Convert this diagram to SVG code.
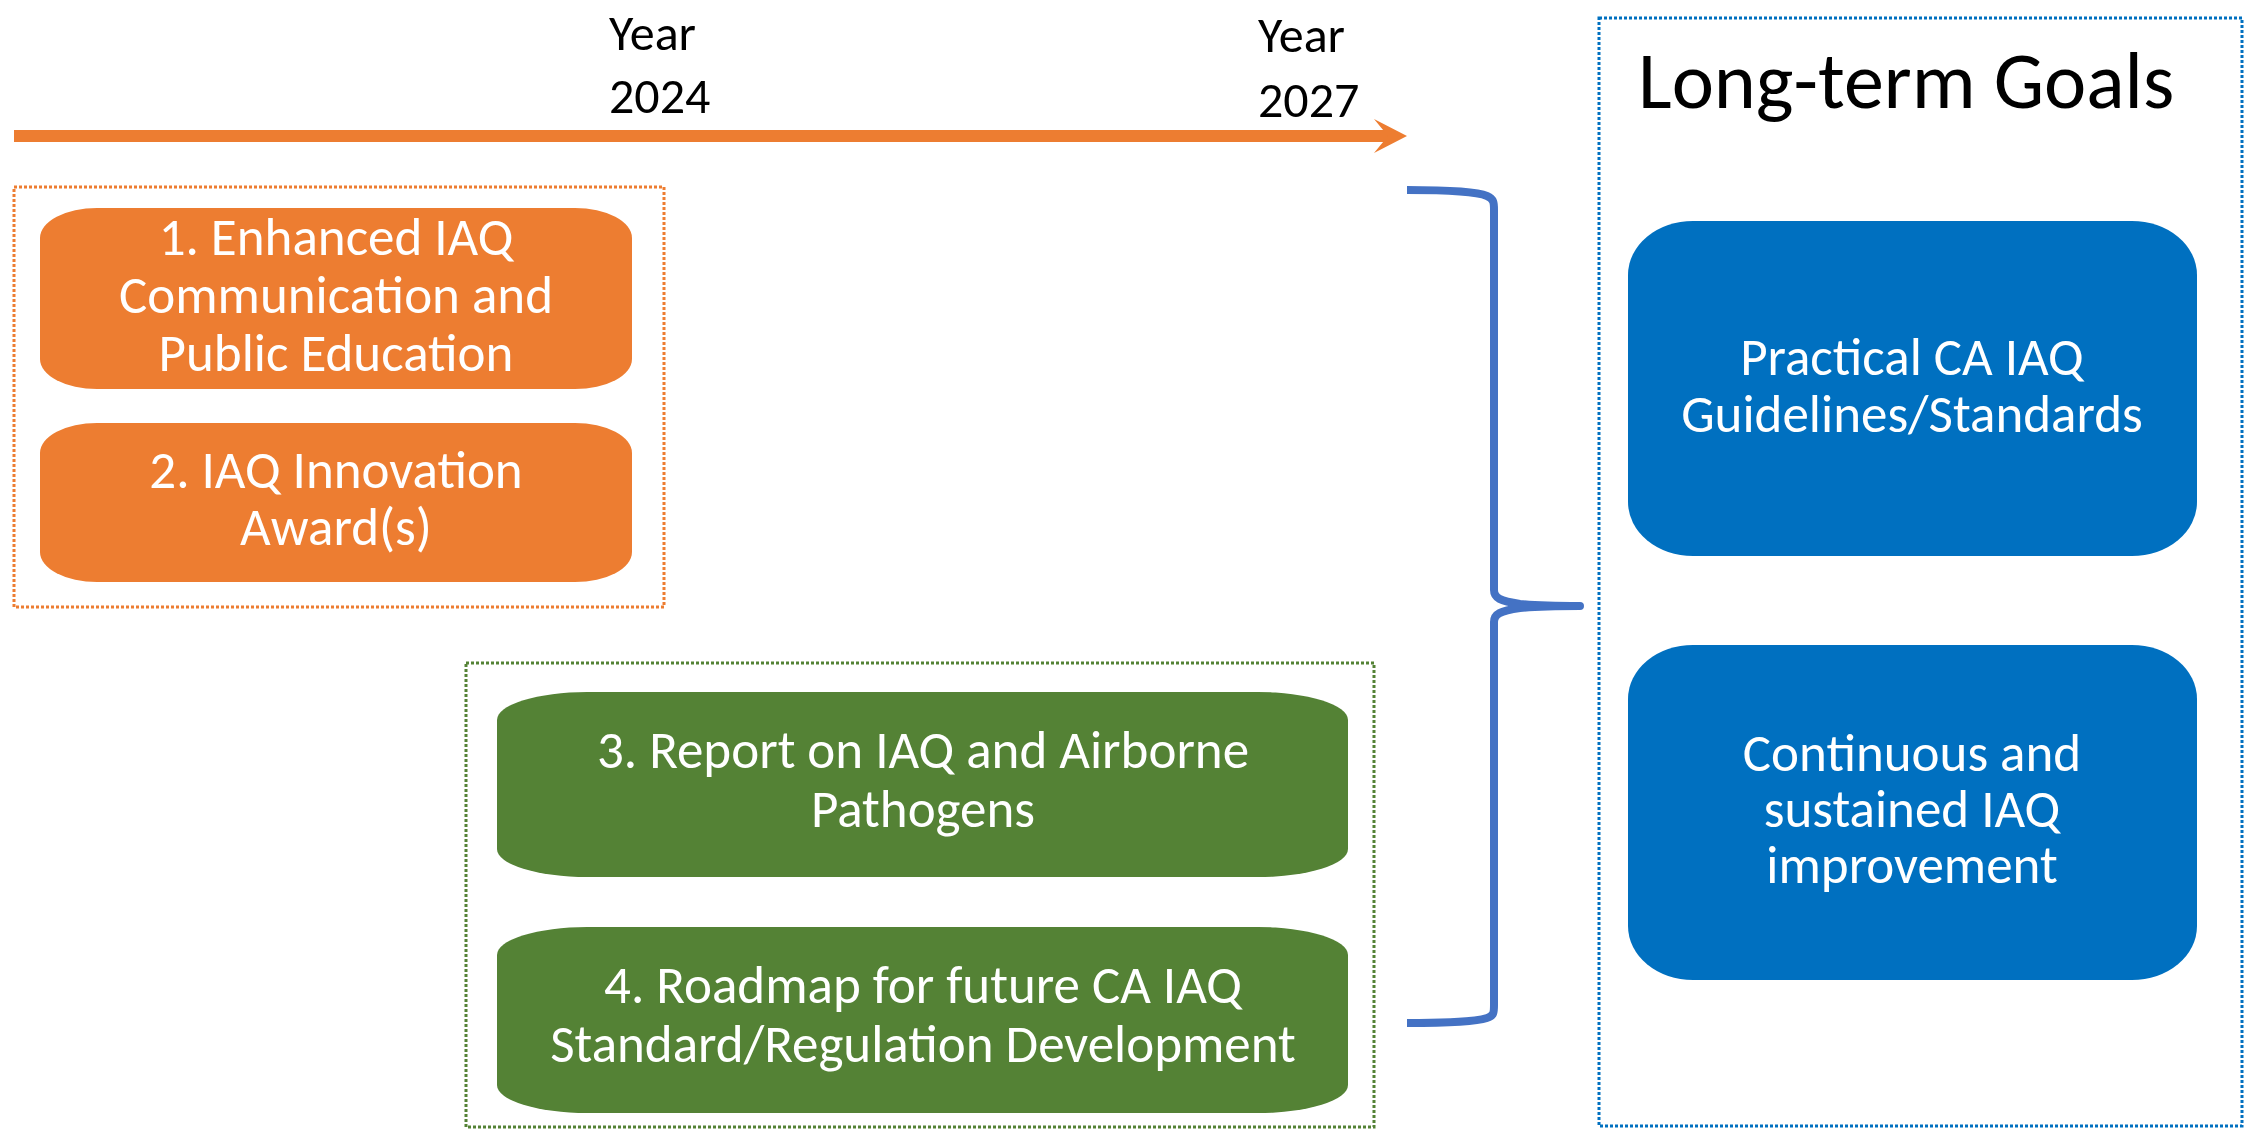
<svg xmlns="http://www.w3.org/2000/svg" width="2247" height="1129" viewBox="0 0 2247 1129">
<style>
.t{font-family:Carlito,Lato,"Liberation Sans",sans-serif;font-size:53px;fill:#fff;text-anchor:middle}
.y{font-family:Carlito,Lato,"Liberation Sans",sans-serif;font-size:50px;fill:#000}
.ttl{font-family:Carlito,Lato,"Liberation Sans",sans-serif;font-size:80px;fill:#000}
.dot{fill:none;stroke-width:3;stroke-dasharray:3 2}
</style>
<rect width="2247" height="1129" fill="#fff"/>
<g id="timeline">
<line x1="14" y1="136" x2="1390" y2="136" stroke="#ED7D31" stroke-width="12"/>
<polygon points="1374,119 1407,136 1374,153 1388,136" fill="#ED7D31"/>
<text class="y" x="609" y="50">Year</text>
<text class="y" x="609" y="113">2024</text>
<text class="y" x="1258" y="52">Year</text>
<text class="y" x="1258" y="117">2027</text>
</g>
<g id="group-orange">
<rect class="dot" x="14" y="187" width="650" height="420" stroke="#ED7D31"/>
</g>
<g id="node1">
<rect x="40" y="208" width="592" height="181" rx="57" ry="30" fill="#ED7D31"/>
<text class="t" x="336" y="255">1. Enhanced IAQ</text>
<text class="t" x="336" y="313">Communication and</text>
<text class="t" x="336" y="371">Public Education</text>
</g>
<g id="node2">
<rect x="40" y="423" width="592" height="159" rx="57" ry="30" fill="#ED7D31"/>
<text class="t" x="336" y="488">2. IAQ Innovation</text>
<text class="t" x="336" y="545">Award(s)</text>
</g>
<g id="group-green">
<rect class="dot" x="466" y="663" width="908" height="464" stroke="#548235"/>
</g>
<g id="node3">
<rect x="497" y="692" width="851" height="185" rx="90" ry="28" fill="#548235"/>
<text class="t" x="923" y="768">3. Report on IAQ and Airborne</text>
<text class="t" x="923" y="827">Pathogens</text>
</g>
<g id="node4">
<rect x="497" y="927" width="851" height="186" rx="90" ry="28" fill="#548235"/>
<text class="t" x="923" y="1003">4. Roadmap for future CA IAQ</text>
<text class="t" x="923" y="1062">Standard/Regulation Development</text>
</g>
<g id="group-goals">
<rect class="dot" x="1599" y="18" width="643" height="1108" stroke="#0070C0"/>
<text class="ttl" x="1638" y="108">Long-term Goals</text>
</g>
<g id="goal1">
<rect x="1628" y="221" width="569" height="335" rx="65" ry="54" fill="#0070C0"/>
<text class="t" x="1912" y="375">Practical CA IAQ</text>
<text class="t" x="1912" y="432">Guidelines/Standards</text>
</g>
<g id="goal2">
<rect x="1628" y="645" width="569" height="335" rx="65" ry="54" fill="#0070C0"/>
<text class="t" x="1912" y="771">Continuous and</text>
<text class="t" x="1912" y="827">sustained IAQ</text>
<text class="t" x="1912" y="883">improvement</text>
</g>
<g id="connectors">
<path d="M1407,190 C1450,190 1478,192 1487,196 C1494,199 1494,203 1494,210 L1494,590 C1494,598 1500,601 1520,604 C1540,606 1560,606 1580,606 C1560,606 1540,606 1520,608 C1500,611 1494,614 1494,622 L1494,1005 C1494,1012 1494,1016 1487,1018 C1478,1021 1450,1023 1407,1023" fill="none" stroke="#4472C4" stroke-width="8" stroke-linejoin="round"/>
</g>
</svg>
